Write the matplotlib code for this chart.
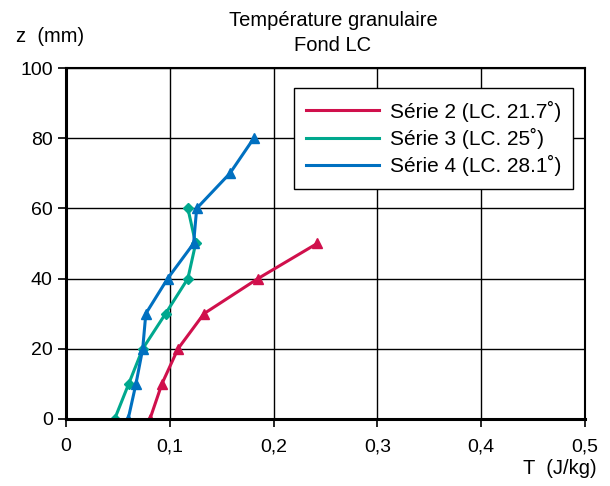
import numpy as np
from matplotlib import pyplot as plt
from matplotlib.lines import Line2D
from matplotlib.ticker import FuncFormatter

plt.rcParams['font.family'] = ['Liberation Sans', 'DejaVu Sans']

# donnees
z2 = [0, 10, 20, 30, 40, 50]
T2 = [0.081, 0.0925, 0.108, 0.133, 0.185, 0.242]

z3 = [0, 10, 20, 30, 40, 50, 60]
T3 = [0.047, 0.0605, 0.074, 0.096, 0.1175, 0.125, 0.1175]

z4 = [0, 10, 20, 30, 40, 50, 60, 70, 80]
T4 = [0.060, 0.0675, 0.074, 0.077, 0.098, 0.123, 0.126, 0.158, 0.181]

labels = ["Série 2 (LC. 21.7˚)", "Série 3 (LC. 25˚)", "Série 4 (LC. 28.1˚)"]
couleurs = ['#d0104c', '#00a88e', '#0070c0']

fig = plt.figure(figsize=(6.1, 4.86), dpi=100)
ax = fig.add_axes([0.108, 0.138, 0.851, 0.722])

ax.plot(T2, z2, color=couleurs[0], marker='^', ms=7, lw=2.2)
ax.plot(T3, z3, color=couleurs[1], marker='D', ms=5, lw=2.2)
ax.plot(T4, z4, color=couleurs[2], marker='^', ms=7, lw=2.2)

ax.set_xlim(0, 0.5)
ax.set_ylim(0, 100)
ax.set_xticks(np.arange(0, 0.51, 0.1))
ax.set_yticks(np.arange(0, 101, 20))
ax.xaxis.set_major_formatter(FuncFormatter(lambda v, p: "0" if v == 0 else ("%.1f" % v).replace('.', ',')))
ax.grid(color='black', lw=1)
ax.set_axisbelow(True)
ax.tick_params(labelsize=14, length=6, width=1.2, direction='out')
ax.tick_params(axis='x', pad=8)
for s in ['left', 'bottom']:
    ax.spines[s].set_linewidth(2.2)
for s in ['top', 'right']:
    ax.spines[s].set_linewidth(1.5)

# legende sans marqueurs, comme sur l'original
poignees = [Line2D([], [], color=c, lw=2.2) for c in couleurs]
leg = ax.legend(poignees, labels, loc='upper left', bbox_to_anchor=(0.439, 0.943),
                borderaxespad=0, fontsize=15, frameon=True, fancybox=False,
                edgecolor='black', framealpha=1, handlelength=3.5,
                borderpad=0.6, labelspacing=0.3, handletextpad=0.5)
leg.get_frame().set_linewidth(1)

fig.text(0.547, 0.958, "Température granulaire", ha='center', va='center', fontsize=14.5)
fig.text(0.545, 0.907, "Fond LC", ha='center', va='center', fontsize=14.5)
fig.text(0.082, 0.925, "z  (mm)", ha='center', va='center', fontsize=14.5)
fig.text(0.918, 0.035, "T  (J/kg)", ha='center', va='center', fontsize=14.5)

plt.savefig("out.png", dpi=100)
